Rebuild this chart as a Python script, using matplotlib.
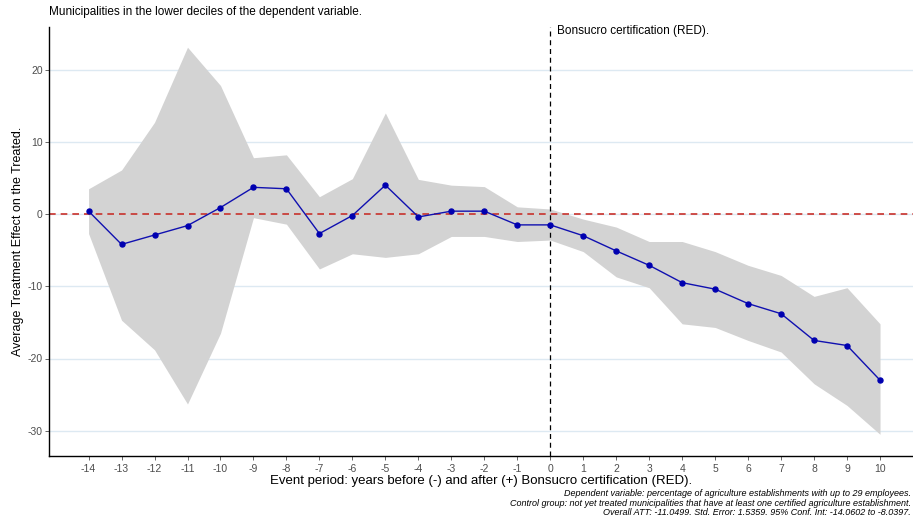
import matplotlib
matplotlib.use("Agg")
import matplotlib.pyplot as plt

plt.rcParams["font.family"] = ["Liberation Sans", "DejaVu Sans"]
plt.rcParams["axes.unicode_minus"] = False

# event periods (years relative to certification)
periods = list(range(-14, 11))
att = [0.4, -4.2, -2.9, -1.6, 0.9, 3.7, 3.5, -2.7, -0.2, 4.0, -0.4, 0.4, 0.4,
       -1.5, -1.5, -3.0, -5.1, -7.1, -9.5, -10.4, -12.4, -13.8, -17.5, -18.2, -23.0]
ci_upper = [3.5, 6.1, 12.7, 23.1, 17.8, 7.8, 8.2, 2.4, 4.9, 14.0, 4.8, 4.0, 3.8,
            1.0, 0.7, -0.7, -1.8, -3.8, -3.8, -5.2, -7.1, -8.5, -11.4, -10.2, -15.2]
ci_lower = [-2.7, -14.7, -18.8, -26.3, -16.5, -0.5, -1.4, -7.6, -5.5, -6.0, -5.5, -3.1, -3.1,
            -3.8, -3.6, -5.2, -8.7, -10.2, -15.2, -15.7, -17.5, -19.1, -23.5, -26.5, -30.5]
y_ticks = [-30, -20, -10, 0, 10, 20]

fig = plt.figure(figsize=(9.13, 5.22), dpi=100)
ax = fig.add_axes([49 / 913, 1 - 456 / 522, 1 - 49 / 913, (456 - 27) / 522])

ax.fill_between(periods, ci_lower, ci_upper, color="#d3d3d3", lw=0, zorder=1)
ax.axhline(0, color="#c8312b", ls=(0, (4, 3)), lw=1.2, zorder=2)
ax.axvline(0, color="black", ls=(0, (4, 3)), lw=0.9, zorder=2)
ax.plot(periods, att, color="#1010b0", lw=1.0, marker="o", ms=3.6,
        mfc="#0000b0", mec="#0000b0", zorder=3)

ax.set_xlim(-15.2, 11.0)
ax.set_ylim(-33.5, 25.9)
ax.set_xticks(periods)
ax.set_yticks(y_ticks)
ax.tick_params(axis="both", labelsize=7.5, colors="#4d4d4d", length=3, width=0.6, pad=1.5)
ax.tick_params(axis="x", pad=2.5)
ax.grid(axis="y", color="#dde9f2", lw=1.0, zorder=0)
ax.set_axisbelow(True)

for s in ["top", "right"]:
    ax.spines[s].set_visible(False)
for s in ["left", "bottom"]:
    ax.spines[s].set_linewidth(1.0)

ax.set_xlabel("Event period: years before (-) and after (+) Bonsucro certification (RED).",
              fontsize=9.5, labelpad=1)
ax.set_ylabel("Average Treatment Effect on the Treated.", fontsize=9)
ax.yaxis.set_label_coords(-25 / 864, 0.5)

fig.text(49 / 913, 1 - 12 / 522, "Municipalities in the lower deciles of the dependent variable.",
         fontsize=8.5, ha="left", va="center")
ax.text(0.2, 25.4, "Bonsucro certification (RED).", fontsize=8.5, ha="left", va="center")

caption = ("Dependent variable: percentage of agriculture establishments with up to 29 employees.\n"
           "Control group: not yet treated municipalities that have at least one certified agriculture establishment.\n"
           "Overall ATT: -11.0499. Std. Error: 1.5359. 95% Conf. Int: -14.0602 to -8.0397.")
fig.text(0.998, 1 - 503 / 522, caption, fontsize=6.5, style="italic", ha="right",
         va="center", linespacing=1.1)

fig.savefig("out.png", dpi=100)
